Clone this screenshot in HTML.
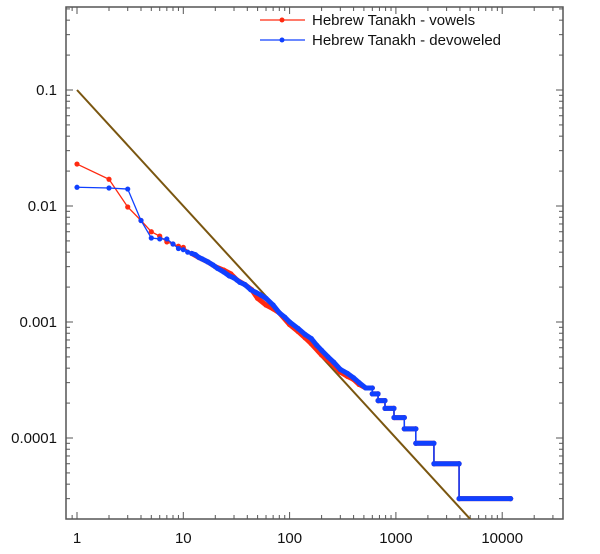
<!DOCTYPE html>
<html><head><meta charset="utf-8"><style>
html,body{margin:0;padding:0;background:#fff;width:600px;height:554px;overflow:hidden;font-family:"Liberation Sans",Arial,sans-serif}
svg{display:block}
svg text{font-family:"Liberation Sans",Arial,sans-serif}
</style></head><body>
<svg id="chart" width="600" height="554" viewBox="0 0 600 554" xmlns="http://www.w3.org/2000/svg">
<defs><clipPath id="clip"><rect x="66" y="7" width="497" height="512"/></clipPath></defs>
<rect x="66" y="7" width="497" height="512" fill="none" stroke="#555" stroke-width="1.5"/>
<g id="ticks"></g>
<g id="series" clip-path="url(#clip)"></g>
<g>
 <g>
  <line x1="260" y1="20" x2="305" y2="20" stroke="#ff2a10" stroke-width="1.3"/><circle cx="282" cy="20" r="2.5" fill="#ff2a10"/>
  <text x="312" y="25" font-size="15" fill="#111">Hebrew Tanakh - vowels</text>
 </g>
 <g>
  <line x1="260" y1="40" x2="305" y2="40" stroke="#1040ff" stroke-width="1.3"/><circle cx="282" cy="40" r="2.5" fill="#1040ff"/>
  <text x="312" y="45" font-size="15" fill="#111">Hebrew Tanakh - devoweled</text>
 </g>
</g>
</svg>
<script>
const xTicks=[1,10,100,1000,10000];
const xTickLabels=["1","10","100","1000","10000"];
const yTicks=[0.1,0.01,0.001,0.0001];
const yTickLabels=["0.1","0.01","0.001","0.0001"];
const blueRanks=[1,2,3,4,5,6,7,8,9,10,11,12,13,14,15,17,19,21,24,27,30,34,38,43,48,54,60,70,80,90,100,120,140,160,180,200,230,260,300,350,400,450,520,599,600,679,680,789,790,959,960,1199,1200,1539,1540,2279,2280,3929,3930,12000];
const blueValues=[.0145,.0143,.014,.0075,.0053,.0052,.0052,.0047,.0043,.0042,.004,.0039,.0038,.0036,.0035,.0033,.0031,.0029,.0027,.0025,.0024,.0022,.0021,.0019,.0018,.0017,.0016,.0014,.0012,.0011,.001,.00088,.00078,.00072,.00063,.00057,.0005,.00045,.00039,.00036,.00033,.0003,.00027,.00027,.00024,.00024,.00021,.00021,.00018,.00018,.00015,.00015,.00012,.00012,.00009,.00009,.00006,.00006,.00003,.00003];
const redRanks=[1,2,3,4,5,6,7,8,9,10,12,14,17,20,24,28,32,38,44,50,60,70,80,100,120,140,160,200,250,300,350,400,450,520,599,600,679,680,789,790,959,960,1199,1200,1539,1540,2279,2280,3929,3930,12000];
const redValues=[.023,.017,.0098,.0075,.006,.0055,.0049,.0047,.0045,.0044,.0039,.0036,.0033,.003,.0028,.0026,.0023,.0021,.0019,.0016,.0014,.0013,.0012,.00095,.00083,.00073,.00065,.00052,.00044,.00037,.00034,.00032,.00029,.00027,.00027,.00024,.00024,.00021,.00021,.00018,.00018,.00015,.00015,.00012,.00012,.00009,.00009,.00006,.00006,.00003,.00003];
const zipfConst=0.1;
const NS="http://www.w3.org/2000/svg";
const X=r=>77+Math.log10(r)*106.3;
const Y=v=>90-(Math.log10(v)+1)*116;
function mk(t,a,p){const e=document.createElementNS(NS,t);for(const k in a)e.setAttribute(k,a[k]);p.appendChild(e);return e;}
const tg=document.getElementById('ticks');
for(let d=-1;d<=4;d++){for(let m=1;m<=9;m++){const v=m*Math.pow(10,d);const x=X(v);if(x<67||x>562)continue;const L=m===1?7:4;
 const a=mk('line',{x1:x,y1:519,x2:x,y2:519-L,stroke:'#555','stroke-width':1},tg);
 
 
 const b=mk('line',{x1:x,y1:7,x2:x,y2:7+L,stroke:'#555','stroke-width':1},tg);
 
 }}
xTicks.forEach((v,i)=>{const t=mk('text',{x:X(v),y:543,'font-size':15,'text-anchor':'middle',fill:'#111'},tg);t.textContent=xTickLabels[i];
 
 });
for(let d=-5;d<=0;d++){for(let m=1;m<=9;m++){const v=m*Math.pow(10,d);const y=Y(v);if(y<8||y>518)continue;const L=m===1?7:4;
 const a=mk('line',{x1:66,y1:y,x2:66+L,y2:y,stroke:'#555','stroke-width':1},tg);
 
 
 const b=mk('line',{x1:563,y1:y,x2:563-L,y2:y,stroke:'#555','stroke-width':1},tg);
 
 }}
yTicks.forEach((v,i)=>{const t=mk('text',{x:57,y:Y(v)+5,'font-size':15,'text-anchor':'end',fill:'#111'},tg);t.textContent=yTickLabels[i];
 
 });
const sg=document.getElementById('series');
const zl=mk('line',{x1:X(1),y1:Y(zipfConst),x2:X(100000),y2:Y(zipfConst/100000),stroke:'#7a5610','stroke-width':2},sg);


function draw(ranks,vals,col,name){
 const g=mk('g',{},sg);
 
 
 const pts=ranks.map((r,i)=>X(r)+','+Y(vals[i])).join(' ');
 mk('polyline',{points:pts,fill:'none',stroke:col,'stroke-width':1.3},g);
 for(let i=0;i<ranks.length-1;i++){if(ranks[i]<12)continue;
  mk('line',{x1:X(ranks[i]),y1:Y(vals[i]),x2:X(ranks[i+1]),y2:Y(vals[i+1]),stroke:col,'stroke-width':vals[i]===vals[i+1]?5:(ranks[i]>500?1.5:5),'stroke-linecap':'round'},g);}
 ranks.forEach((r,i)=>{const c=mk('circle',{cx:X(r),cy:Y(vals[i]),r:2.6,fill:col},g);
  
  });
}
draw(redRanks,redValues,'#ff2a10','series-vowels');
draw(blueRanks,blueValues,'#1040ff','series-devoweled');
</script>
</body></html>
